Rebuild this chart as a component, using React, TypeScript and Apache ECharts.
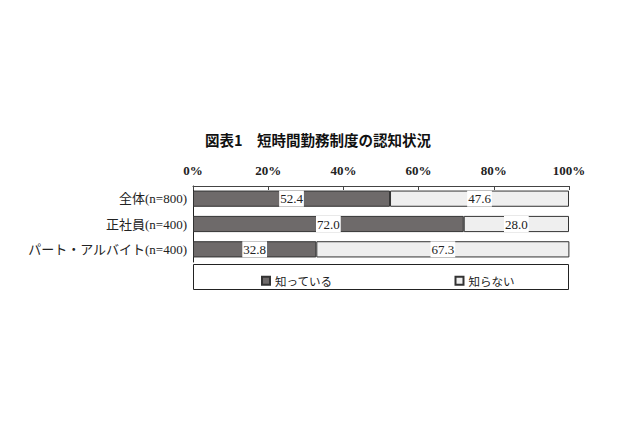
import { useRef, useEffect } from "react";
import * as echarts from "echarts";

// 図表1 短時間勤務制度の認知状況
const categories = ["全体(n=800)", "正社員(n=400)", "パート・アルバイト(n=400)"];
const knowValues = [52.4, 72.0, 32.8];
const notKnowValues = [47.6, 28.0, 67.3];
const seriesNames = ["知っている", "知らない"];

const FONT = "'Liberation Serif', 'Noto Sans CJK JP', serif";

const App = () => {
  const chartRef = useRef<HTMLDivElement>(null);

  useEffect(() => {
    const myChart = echarts.init(chartRef.current, null, { renderer: "svg" });

    const label = {
      show: true,
      position: "inside",
      color: "#222",
      fontFamily: FONT,
      fontSize: 13,
      backgroundColor: "#fff",
      padding: [2, 1, 1, 1],
      formatter: (p: any) => Number(p.value).toFixed(1),
    };

    const option = {
      animation: false,
      backgroundColor: "#fff",
      title: {
        text: "図表1　短時間勤務制度の認知状況",
        left: 200,
        top: 127,
        textStyle: {
          fontFamily: "'Noto Sans CJK JP', sans-serif",
          fontSize: 14.5,
          fontWeight: "bold",
          color: "#111",
        },
      },
      grid: { left: 193, right: 71, top: 186, height: 76 },
      xAxis: {
        type: "value",
        position: "top",
        min: 0,
        max: 100,
        interval: 20,
        axisLine: { show: true, lineStyle: { color: "#444", width: 1 } },
        axisTick: { show: true, inside: true, length: 4, lineStyle: { color: "#444" } },
        splitLine: { show: false },
        axisLabel: {
          formatter: "{value}%",
          fontFamily: FONT,
          fontSize: 13,
          fontWeight: "bold",
          color: "#222",
          margin: 9,
        },
      },
      yAxis: {
        type: "category",
        inverse: true,
        data: categories,
        axisLine: { show: true, lineStyle: { color: "#222", width: 1 } },
        axisTick: { show: false },
        axisLabel: {
          fontFamily: FONT,
          fontSize: 13,
          color: "#222",
          margin: 6,
        },
      },
      legend: {
        data: seriesNames,
        left: 256,
        top: 270,
        itemWidth: 8,
        itemHeight: 8,
        itemGap: 122,
        icon: "rect",
        textStyle: {
          fontFamily: "'Noto Sans CJK JP', sans-serif",
          fontSize: 11.5,
          color: "#222",
        },
      },
      graphic: [
        {
          type: "rect",
          shape: { x: 193.5, y: 264.5, width: 375, height: 25 },
          style: { fill: "none", stroke: "#222", lineWidth: 1 },
          z: 1,
        },
      ],
      series: [
        {
          name: seriesNames[0],
          type: "bar",
          stack: "total",
          data: knowValues,
          barCategoryGap: "36%",
          itemStyle: { color: "#6e6a6a", borderColor: "#333", borderWidth: 1 },
          label,
        },
        {
          name: seriesNames[1],
          type: "bar",
          stack: "total",
          data: notKnowValues,
          barCategoryGap: "36%",
          itemStyle: { color: "#efefef", borderColor: "#333", borderWidth: 1 },
          label,
        },
      ],
    };

    myChart.setOption(option);

    return () => {
      myChart.dispose();
    };
  }, []);

  return (
    <div
      ref={chartRef}
      style={{ position: "fixed", left: 0, top: 0, width: "640px", height: "426px" }}
    ></div>
  );
};

export default App;
